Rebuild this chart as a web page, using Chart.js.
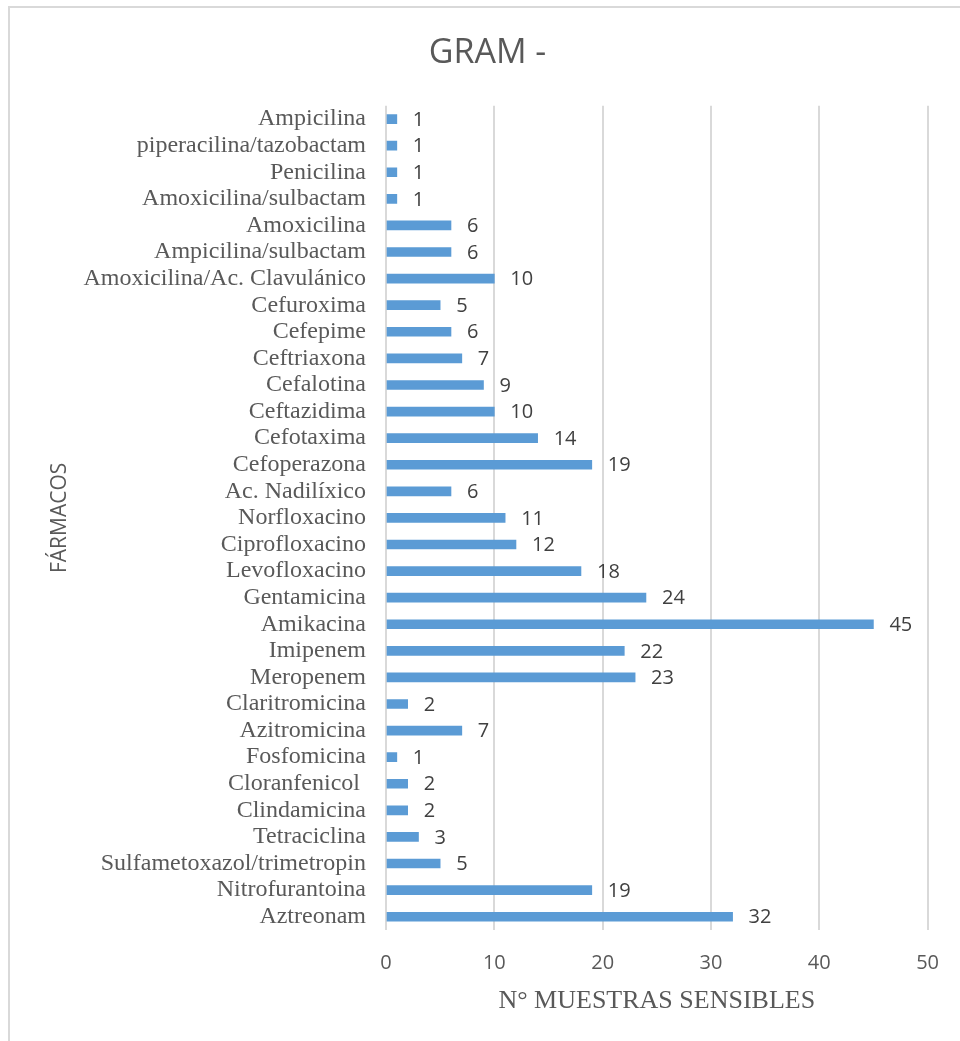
<!DOCTYPE html>
<html>
<head>
<meta charset="utf-8">
<title>GRAM -</title>
<script src="https://cdn.jsdelivr.net/npm/chart.js@4.4.1/dist/chart.umd.min.js"></script>
<style>
    html, body {
        margin: 0;
        padding: 0;
        background: #ffffff;
        overflow: hidden;
    }
    .frame {
        position: absolute;
        left: 8px;
        top: 6px;
        width: 1000px;
        height: 1100px;
        border: 2px solid #d9d9d9;
        box-sizing: border-box;
    }
    #gramChart {
        position: absolute;
        left: 0;
        top: 0;
    }
</style>
</head>
<body>
<div class="frame"></div>
<canvas id="gramChart" width="960" height="1041"></canvas>

<script>
// ################ data ################

const farmacos = [
    "Ampicilina",
    "piperacilina/tazobactam",
    "Penicilina",
    "Amoxicilina/sulbactam",
    "Amoxicilina",
    "Ampicilina/sulbactam",
    "Amoxicilina/Ac. Clavulánico",
    "Cefuroxima",
    "Cefepime",
    "Ceftriaxona",
    "Cefalotina",
    "Ceftazidima",
    "Cefotaxima",
    "Cefoperazona",
    "Ac. Nadilíxico",
    "Norfloxacino",
    "Ciprofloxacino",
    "Levofloxacino",
    "Gentamicina",
    "Amikacina",
    "Imipenem",
    "Meropenem",
    "Claritromicina",
    "Azitromicina",
    "Fosfomicina",
    "Cloranfenicol ",
    "Clindamicina",
    "Tetraciclina",
    "Sulfametoxazol/trimetropin",
    "Nitrofurantoina",
    "Aztreonam",
];

const muestrasSensibles = [
    1, 1, 1, 1, 6, 6, 10, 5, 6, 7, 9, 10, 14, 19, 6,
    11, 12, 18, 24, 45, 22, 23, 2, 7, 1, 2, 2, 3, 5, 19, 32,
];

const xTicks = [0, 10, 20, 30, 40, 50];

// ############## value labels at the end of each bar ##############

const valueLabels = {
    id: "valueLabels",
    afterDatasetsDraw(chart) {
        const ctx = chart.ctx;
        const meta = chart.getDatasetMeta(0);
        ctx.save();
        ctx.fillStyle = "#404040";
        ctx.font = "20px 'Open Sans'";
        ctx.textAlign = "left";
        ctx.textBaseline = "middle";
        meta.data.forEach((bar, i) => {
            ctx.fillText(String(muestrasSensibles[i]), bar.x + 16, bar.y + 1);
        });
        ctx.restore();
    },
};

// ################ chart ################

const ctx = document.getElementById("gramChart").getContext("2d");
const gramChart = new Chart(ctx, {
    type: "bar",
    data: {
        labels: farmacos,
        datasets: [
            {
                label: "N° muestras sensibles",
                data: muestrasSensibles,
                backgroundColor: "#5b9bd5",
                borderWidth: 0,
                barThickness: 9,
            },
        ],
    },
    options: {
        indexAxis: "y",
        responsive: false,
        animation: false,
        layout: {
            padding: { left: 47, right: 32, top: 0, bottom: 0 },
        },
        plugins: {
            legend: { display: false },
            tooltip: { enabled: false },
            title: {
                display: true,
                text: "GRAM -",
                color: "#595959",
                font: { family: "'Open Sans'", size: 34, weight: 400 },
                padding: { top: 33, bottom: 32 },
            },
        },
        scales: {
            x: {
                min: 0,
                max: 50,
                afterBuildTicks: function (scale) {
                    scale.ticks = xTicks.map((v) => ({ value: v }));
                },
                afterFit: function (scale) {
                    scale.height = 111;
                },
                grid: {
                    color: "#d9d9d9",
                    lineWidth: 2,
                    drawTicks: false,
                },
                border: { display: false },
                ticks: {
                    color: "#595959",
                    padding: 21,
                    font: { family: "'Open Sans'", size: 20 },
                },
                title: {
                    display: true,
                    text: "N° MUESTRAS SENSIBLES",
                    color: "#595959",
                    font: { family: "'Liberation Serif'", size: 26 },
                    padding: { top: 0, bottom: 24 },
                },
            },
            y: {
                afterFit: function (scale) {
                    scale.width = 339;
                },
                grid: { display: false, drawTicks: false },
                border: { display: false },
                ticks: {
                    autoSkip: false,
                    color: "#595959",
                    padding: 20,
                    font: { family: "'Liberation Serif'", size: 24 },
                },
                title: {
                    display: true,
                    text: "FÁRMACOS",
                    color: "#595959",
                    font: { family: "'Open Sans'", size: 21 },
                    padding: { top: 0, bottom: 0 },
                },
            },
        },
    },
    plugins: [valueLabels],
});
</script>
</body>
</html>
